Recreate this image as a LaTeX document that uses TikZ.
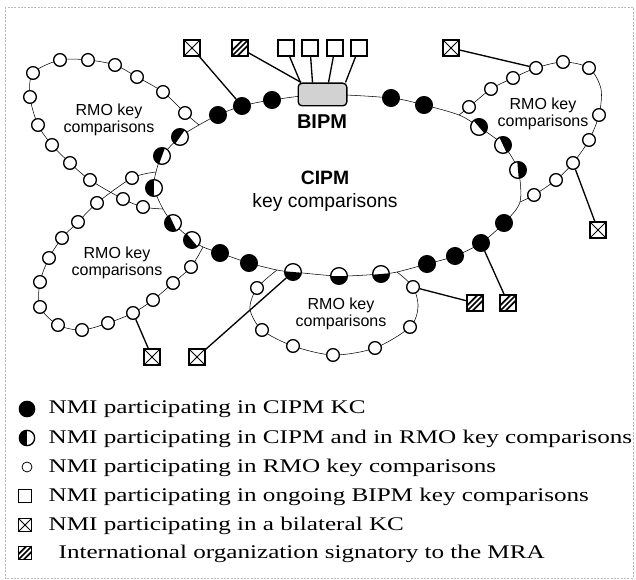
\documentclass[tikz,border=0pt]{standalone}
\usepackage{fontspec}
\setmainfont{Liberation Serif}
\newfontfamily\sfarial{Liberation Sans}
\newfontfamily\legfont[FakeStretch=1.3]{Liberation Serif}
\usetikzlibrary{backgrounds,calc}
\begin{document}
\begin{tikzpicture}[x=0.75pt,y=-0.75pt,line width=1pt,
  bdot/.style={circle,draw,fill=black,minimum size=12.5pt,inner sep=0pt},
  hdot/.style={circle,draw,fill=white,minimum size=12.5pt,inner sep=0pt,
    path picture={\fill[black] (path picture bounding box.center) ++(#1-90:8pt) -- ++(#1:8pt) -- ++(#1+90:16pt) -- ++(#1+180:8pt) -- cycle;}},
  odot/.style={circle,draw,fill=white,minimum size=9.5pt,inner sep=0pt},
  sq/.style={rectangle,draw,fill=white,minimum size=12pt,inner sep=0pt},
  xsq/.style={sq,path picture={\draw[black,line width=0.7pt] (path picture bounding box.north west)--(path picture bounding box.south east) (path picture bounding box.south west)--(path picture bounding box.north east);}},
  hsq/.style={sq,path picture={\foreach \k in {-4,0,4}{\draw[black,line width=1.3pt] ([xshift=\k pt]path picture bounding box.center) ++(-8pt,-8pt) -- ++(16pt,16pt);}}},
  bipmbox/.style={rectangle,rounded corners=3pt,draw,fill=gray!35,minimum width=36.5pt,minimum height=17pt,inner sep=0pt},
  rmo/.style={font=\sfarial\fontsize{12}{12.5}\selectfont,align=center,inner sep=0pt},
  legtext/.style={font=\legfont\fontsize{14.5}{17}\selectfont,inner sep=0pt,anchor=base west}
]
\useasboundingbox (0,0) rectangle (636,580);
\draw[gray!55,line width=0.5pt,dash pattern=on 1.5pt off 1pt] (5,7) rectangle (633,578);

% BIPM box
\node[bipmbox] (bipm) at (322.5,94.5) {};

% CIPM ellipse dots
\foreach \n/\x/\y in {k1/391/98, k2/424/105, k3/504/223, k4/481/243, k5/455/256, k6/427/264, k7/249/263, k8/220/253, k9/218/115, k10/242/106, k11/272/100}
  \node[bdot] (\n) at (\x,\y) {};
\foreach \n/\x/\y/\a in {h1/479/127/40, h2/503/145/25, h3/518/170/5, h4/381/274/275, h5/339/276/270, h6/293/272/265, h7/192/240/220, h8/173/223/205, h9/154/188/180, h10/162/156/160, h11/180/137/145}
  \node[hdot=\a] (\n) at (\x,\y) {};
\foreach \n/\x/\y in {j1a/199/125, j1b/163/209, j2a/156/172, j2b/203/247, j3a/459/115, j3b/520/202, j4a/277/270, j4b/397/272}
  \coordinate (\n) at (\x,\y);

% RMO loop circles
\foreach \n/\x/\y in {a1/185/113, a2/163/92, a3/137/77, a4/115/65, a5/88/60, a6/60/60, a7/33/73, a8/30/97, a9/38/125, a10/52/145, a11/70/163, a12/90/180, a13/123/199, a14/143/207,
  b1/132/178, b2/97/203, b3/78/222, b4/62/238, b5/49/258, b6/40/282, b7/40/307, b8/58/325, b9/82/330, b10/108/323, b11/133/313, b12/153/300, b13/173/283, b14/191/267,
  c1/469/107, c2/491/89, c3/513/78, c4/536/68, c5/563/62, c6/589/68, c7/599/115, c8/589/140, c9/573/163, c10/556/180, c11/534/195,
  d1/257/288, d2/262/330, d3/293/346, d4/333/355, d5/375/348, d6/410/327, d7/413/287}
  \node[odot] (\n) at (\x,\y) {};
\coordinate (cq) at (601,89);
\coordinate (dq1) at (250,309);
\coordinate (dq2) at (418,307);

% squares
\node[xsq] (s1) at (192,48) {};
\node[hsq] (s2) at (240,48) {};
\node[sq] (s3) at (286,48) {};
\node[sq] (s4) at (310,48) {};
\node[sq] (s5) at (335,48) {};
\node[sq] (s6) at (359,48) {};
\node[xsq] (s7) at (451,48) {};
\node[xsq] (s8) at (598,230) {};
\node[hsq] (s9) at (508,303) {};
\node[hsq] (s10) at (475,303) {};
\node[xsq] (s11) at (197,357) {};
\node[xsq] (s12) at (152,357) {};

\begin{scope}[on background layer]
\draw plot[smooth cycle] coordinates {(bipm.center) (k1.center) (k2.center) (j3a) (h1.center) (h2.center) (h3.center) (j3b) (k3.center) (k4.center) (k5.center) (k6.center) (j4b) (h4.center) (h5.center) (h6.center) (j4a) (k7.center) (k8.center) (j2b) (h7.center) (h8.center) (j1b) (h9.center) (j2a) (h10.center) (h11.center) (j1a) (k9.center) (k10.center) (k11.center)};
\draw plot[smooth] coordinates {(j1a) (a1.center) (a2.center) (a3.center) (a4.center) (a5.center) (a6.center) (a7.center) (a8.center) (a9.center) (a10.center) (a11.center) (a12.center) (a13.center) (a14.center) (j1b)};
\draw plot[smooth] coordinates {(j2a) (b1.center) (b2.center) (b3.center) (b4.center) (b5.center) (b6.center) (b7.center) (b8.center) (b9.center) (b10.center) (b11.center) (b12.center) (b13.center) (b14.center) (j2b)};
\draw plot[smooth] coordinates {(j3a) (c1.center) (c2.center) (c3.center) (c4.center) (c5.center) (c6.center) (cq) (c7.center) (c8.center) (c9.center) (c10.center) (c11.center) (j3b)};
\draw plot[smooth] coordinates {(j4a) (d1.center) (dq1) (d2.center) (d3.center) (d4.center) (d5.center) (d6.center) (dq2) (d7.center) (j4b)};
\end{scope}

% connectors
\draw (s1) -- (k10);
\draw (s2) -- (bipm);
\draw (s3) -- ($(bipm.north west)+(3,0)$);
\draw (s4) -- ($(bipm.north west)+(15,0)$);
\draw (s5) -- ($(bipm.north west)+(31,0)$);
\draw (s6) -- ($(bipm.north east)+(-2,0)$);
\draw (s7) -- (c4);
\draw (s8) -- (c9);
\draw (s9) -- (k4);
\draw (s10) -- (d7);
\draw (s11) -- (h6);
\draw (s12) -- (b11);

% labels
\node[font=\sfarial\bfseries\fontsize{15}{15}\selectfont,inner sep=0pt] (bipmlab) at (322,122) {BIPM};
\node[font=\sfarial\fontsize{14.5}{17.5}\selectfont,align=center,inner sep=0pt] (cipmlab) at (325,191) {\textbf{CIPM}\\key comparisons};
\node[rmo] (r1) at (109,120) {RMO key\\comparisons};
\node[rmo] (r2) at (117,263) {RMO key\\comparisons};
\node[rmo] (r3) at (543,114) {RMO key\\comparisons};
\node[rmo] (r4) at (341,314) {RMO key\\comparisons};

% legend
\node[bdot,minimum size=11.5pt] (lg1) at (27,409) {};
\node[hdot=180,minimum size=11.5pt] (lg2) at (27,438) {};
\node[odot,minimum size=7.5pt,line width=0.6pt] (lg3) at (27,467) {};
\node[sq,minimum size=10pt,line width=0.6pt] (lg4) at (25,496) {};
\node[xsq,minimum size=10pt,line width=0.6pt] (lg5) at (25,525) {};
\node[hsq,minimum size=10pt,line width=0.6pt] (lg6) at (25,553) {};
\node[legtext] (lt1) at (48,414) {NMI participating in CIPM KC};
\node[legtext] (lt2) at (48,443.2) {NMI participating in CIPM and in RMO key comparisons};
\node[legtext] (lt3) at (48,472.4) {NMI participating in RMO key comparisons};
\node[legtext] (lt4) at (48,501.6) {NMI participating in ongoing BIPM key comparisons};
\node[legtext] (lt5) at (48,530.5) {NMI participating in a bilateral KC};
\node[legtext] (lt6) at (58,558.5) {International organization signatory to the MRA};
\end{tikzpicture}
\end{document}
